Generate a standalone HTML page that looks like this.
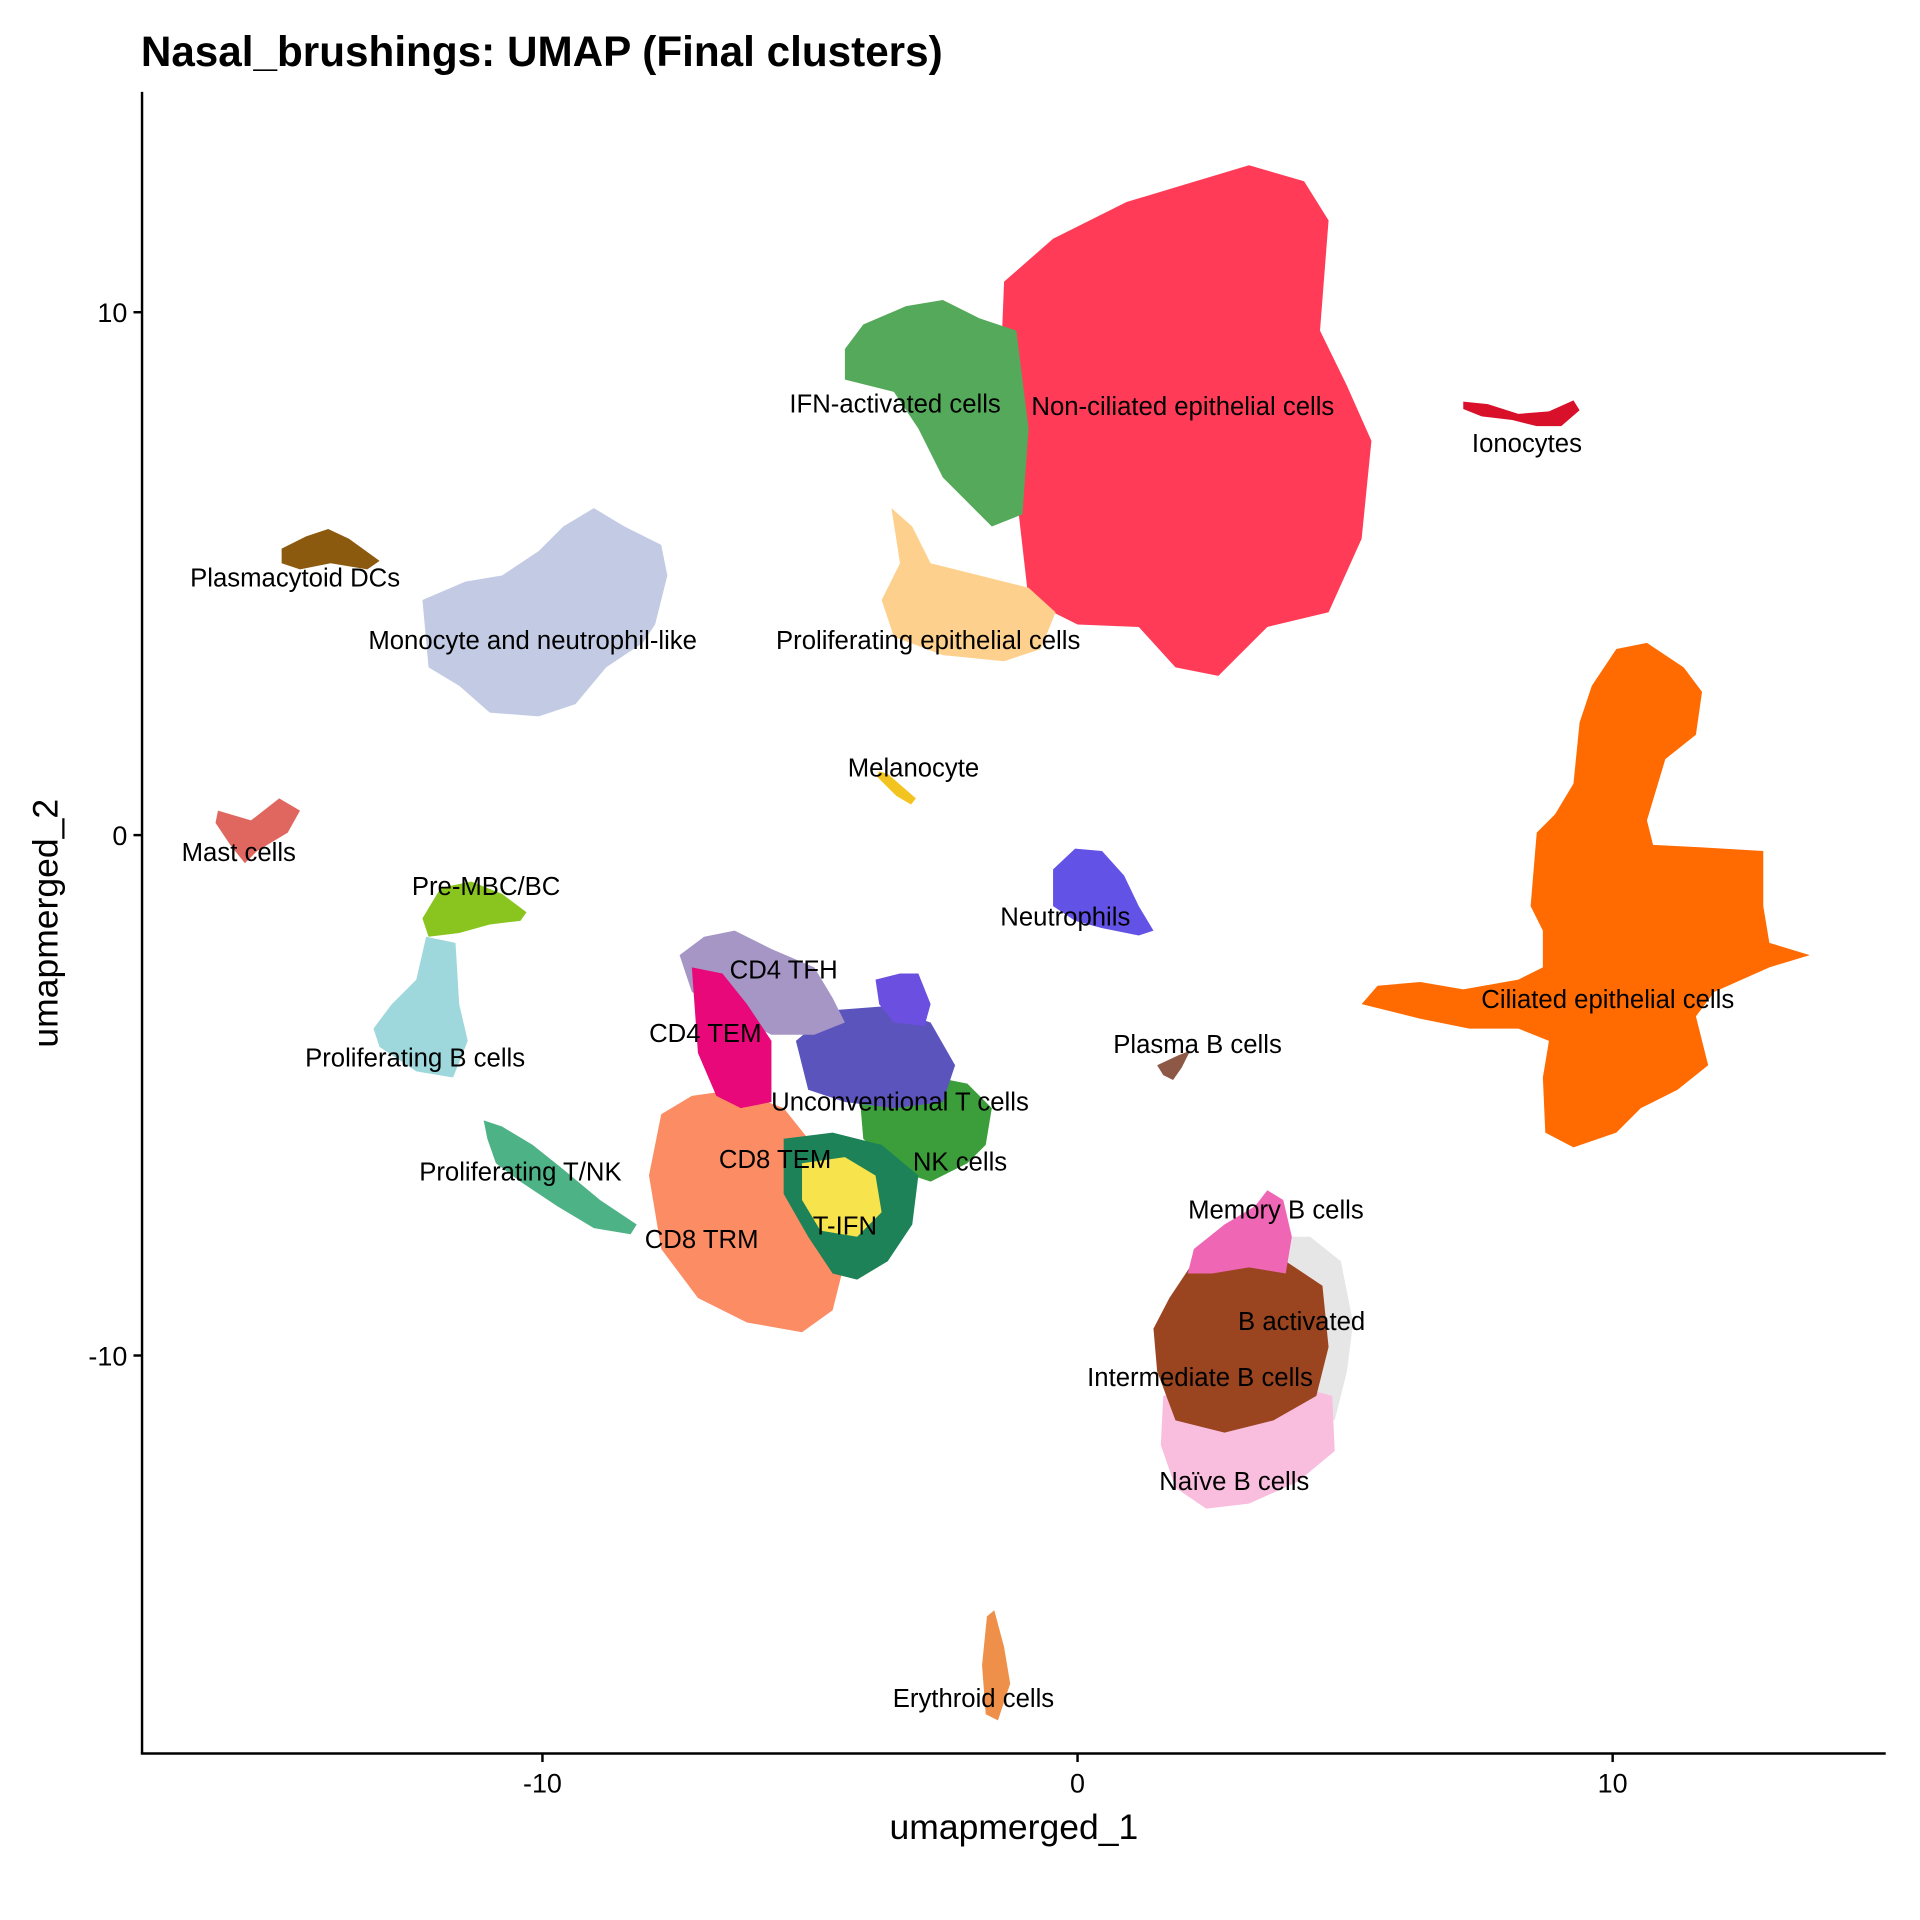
<!DOCTYPE html>
<html><head><meta charset="utf-8"><style>
html,body{margin:0;padding:0;background:#fff}
svg{display:block}
text{font-family:"Liberation Sans",Arial,sans-serif}
</style></head><body>
<svg width="1920" height="1920" viewBox="0 0 1568 1568" xmlns="http://www.w3.org/2000/svg">
<rect width="1568" height="1568" fill="#fff"/>
<text x="115" y="54" font-size="34.5" font-weight="bold">Nasal_brushings: UMAP (Final clusters)</text>

<path d="M820,230 L860,195 L920,165 L970,150 L1020,135 L1065,148 L1085,180 L1078,270 L1100,315 L1120,360 L1112,440 L1085,500 L1035,512 L995,552 L960,545 L930,512 L880,510 L840,490 L832,420 L816,330 Z" fill="#FF3B57"/>
<path d="M690,285 L705,265 L740,250 L770,245 L800,260 L830,270 L840,350 L835,420 L810,430 L790,410 L770,390 L750,350 L730,320 L690,310 Z" fill="#55A95A"/>
<path d="M728,415 L745,430 L760,460 L800,470 L840,480 L862,500 L850,530 L820,540 L770,535 L730,520 L720,490 L735,460 Z" fill="#FDD08E"/>
<path d="M1195,328 L1215,330 L1240,338 L1265,336 L1285,327 L1290,335 L1275,348 L1255,348 L1235,343 L1210,340 L1195,334 Z" fill="#D9102A"/>
<path d="M230,448 L250,438 L268,432 L285,440 L310,458 L300,465 L270,460 L245,465 L230,460 Z" fill="#8B5A0F"/>
<path d="M345,490 L380,475 L410,470 L440,450 L460,430 L485,415 L510,430 L540,445 L545,470 L535,510 L525,525 L495,545 L470,575 L440,585 L400,582 L375,560 L350,545 Z" fill="#C2CBE3"/>
<path d="M178,662 L205,670 L228,652 L245,662 L235,680 L210,695 L200,705 L188,690 L176,672 Z" fill="#E0675F"/>
<path d="M718,630 L725,632 L748,652 L744,657 L732,650 L716,634 Z" fill="#F3C320"/>
<path d="M860,710 L878,693 L900,695 L918,715 L930,740 L942,760 L930,764 L900,758 L878,752 L860,740 Z" fill="#6352E6"/>
<path d="M1112,820 L1125,805 L1160,802 L1195,808 L1240,800 L1260,790 L1260,760 L1250,740 L1255,680 L1270,665 L1285,640 L1290,590 L1300,560 L1320,530 L1345,525 L1375,545 L1390,565 L1385,600 L1360,620 L1345,670 L1350,690 L1390,692 L1440,695 L1440,740 L1445,770 L1478,780 L1445,790 L1400,810 L1385,830 L1395,870 L1370,890 L1340,905 L1320,925 L1285,937 L1262,925 L1260,880 L1265,850 L1240,840 L1200,840 L1160,832 Z" fill="#FF6B00"/>
<path d="M345,750 L360,725 L385,720 L410,730 L430,745 L425,752 L400,755 L375,762 L350,765 Z" fill="#8AC41E"/>
<path d="M348,765 L372,770 L375,820 L382,850 L370,880 L340,875 L310,855 L305,840 L320,820 L340,800 Z" fill="#9ED8DC"/>
<path d="M395,915 L410,920 L435,935 L460,955 L490,980 L520,1000 L515,1008 L485,1003 L455,985 L425,965 L405,950 L398,930 Z" fill="#4DB285"/>
<path d="M540,910 L565,895 L600,890 L640,905 L660,930 L690,960 L690,1030 L680,1070 L655,1088 L610,1080 L570,1060 L540,1020 L530,960 Z" fill="#FB8C64"/>
<path d="M700,870 L740,875 L790,885 L810,905 L805,935 L790,950 L760,965 L730,955 L705,930 Z" fill="#3B9E3A"/>
<path d="M640,930 L680,925 L720,935 L750,960 L745,1000 L725,1030 L700,1045 L680,1040 L660,1010 L640,975 Z" fill="#1D8258"/>
<path d="M655,950 L690,945 L715,960 L720,990 L700,1010 L670,1005 L655,980 Z" fill="#F7E34C"/>
<path d="M650,850 L680,825 L720,822 L760,835 L780,870 L770,900 L730,905 L690,900 L660,890 Z" fill="#5B54BD"/>
<path d="M555,780 L575,765 L600,760 L630,775 L665,790 L680,815 L690,835 L665,845 L630,845 L600,830 L565,810 Z" fill="#A596C6"/>
<path d="M565,790 L590,795 L610,820 L630,850 L630,900 L605,905 L585,895 L570,860 Z" fill="#E8087A"/>
<path d="M715,800 L735,795 L750,795 L760,820 L755,838 L730,835 L718,820 Z" fill="#6B4FE0"/>
<path d="M945,870 L962,862 L972,858 L965,872 L958,882 L950,878 Z" fill="#8E5847"/>
<path d="M1040,1010 L1070,1010 L1095,1030 L1105,1080 L1100,1120 L1090,1160 L1060,1150 L1045,1080 Z" fill="#E6E6E6"/>
<path d="M950,1140 L1000,1130 L1050,1130 L1088,1140 L1090,1185 L1060,1210 L1020,1228 L985,1232 L960,1215 L948,1180 Z" fill="#F9BDDE"/>
<path d="M955,1060 L975,1030 L1010,1020 L1050,1030 L1080,1050 L1085,1100 L1075,1140 L1040,1160 L1000,1170 L960,1160 L945,1120 L942,1085 Z" fill="#9A4520"/>
<path d="M975,1020 L1000,1000 L1025,985 L1035,972 L1048,980 L1055,1010 L1050,1040 L1020,1035 L990,1040 L970,1040 Z" fill="#EE66B4"/>
<path d="M806,1320 L812,1315 L820,1345 L825,1375 L815,1405 L805,1400 L802,1360 Z" fill="#EE904A"/>

<line x1="116" y1="75" x2="116" y2="1432" stroke="#000" stroke-width="2"/>
<line x1="115" y1="1432" x2="1540" y2="1432" stroke="#000" stroke-width="2"/>
<g stroke="#000" stroke-width="2">
<line x1="443" y1="1432" x2="443" y2="1439"/><line x1="880" y1="1432" x2="880" y2="1439"/><line x1="1317" y1="1432" x2="1317" y2="1439"/>
<line x1="109" y1="255" x2="116" y2="255"/><line x1="109" y1="682" x2="116" y2="682"/><line x1="109" y1="1107" x2="116" y2="1107"/>
</g>
<g font-size="22" fill="#000">
<text x="443" y="1464" text-anchor="middle">-10</text>
<text x="880" y="1464" text-anchor="middle">0</text>
<text x="1317" y="1464" text-anchor="middle">10</text>
<text x="104" y="263" text-anchor="end">10</text>
<text x="104" y="690" text-anchor="end">0</text>
<text x="104" y="1115" text-anchor="end">-10</text>
</g>
<text x="828" y="1502" font-size="29" text-anchor="middle">umapmerged_1</text>
<text transform="translate(47,754) rotate(-90)" font-size="29" text-anchor="middle">umapmerged_2</text>

<g font-size="21" fill="#000" text-anchor="middle">
<text x="731" y="337">IFN-activated cells</text>
<text x="966" y="339">Non-ciliated epithelial cells</text>
<text x="1247" y="369">Ionocytes</text>
<text x="241" y="479">Plasmacytoid DCs</text>
<text x="435" y="530">Monocyte and neutrophil-like</text>
<text x="758" y="530">Proliferating epithelial cells</text>
<text x="746" y="634">Melanocyte</text>
<text x="195" y="703">Mast cells</text>
<text x="397" y="731">Pre-MBC/BC</text>
<text x="870" y="756">Neutrophils</text>
<text x="640" y="799">CD4 TFH</text>
<text x="1313" y="823">Ciliated epithelial cells</text>
<text x="576" y="851">CD4 TEM</text>
<text x="978" y="860">Plasma B cells</text>
<text x="339" y="871">Proliferating B cells</text>
<text x="735" y="907">Unconventional T cells</text>
<text x="633" y="954">CD8 TEM</text>
<text x="784" y="956">NK cells</text>
<text x="425" y="964">Proliferating T/NK</text>
<text x="1042" y="995">Memory B cells</text>
<text x="690" y="1008">T-IFN</text>
<text x="573" y="1019">CD8 TRM</text>
<text x="1063" y="1086">B activated</text>
<text x="980" y="1132">Intermediate B cells</text>
<text x="1008" y="1217">Naïve B cells</text>
<text x="795" y="1394">Erythroid cells</text>
</g>
</svg>
</body></html>
